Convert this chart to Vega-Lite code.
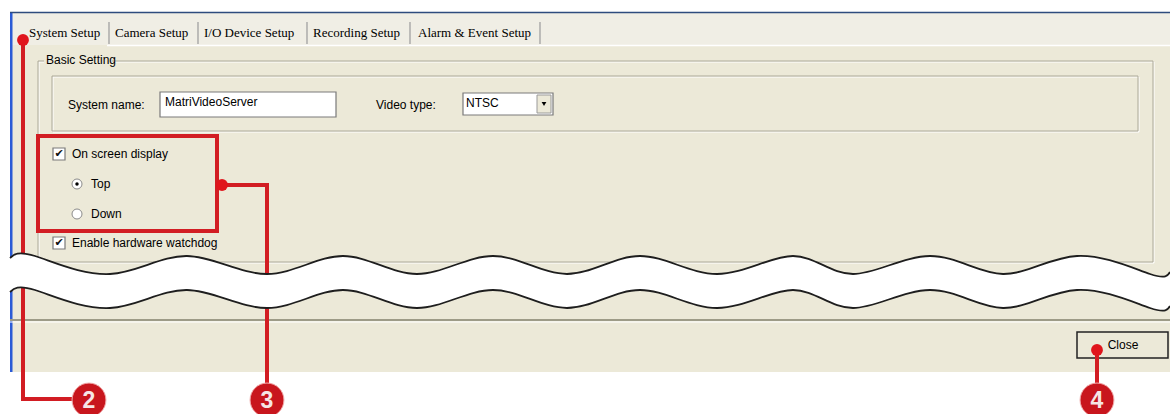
{
  "$schema": "https://vega.github.io/schema/vega-lite/v6.json",
  "width": 1170,
  "height": 414,
  "autosize": {"type": "none"},
  "padding": 0,
  "background": "#ffffff",
  "config": {"view": {"stroke": null}},
  "datasets": {
    "win": [{"x": 10, "x2": 1170, "y": 12, "y2": 372}],
    "tabstrip": [{"x": 12, "x2": 1170, "y": 13, "y2": 45}],
    "blueLeft": [{"x": 10, "x2": 12.5, "y": 12, "y2": 372}],
    "blueTop": [{"x": 10, "x2": 1170, "y": 12.5}],
    "tabLine": [{"x": 107, "x2": 1170, "y": 45.5}],
    "tabsep": [{"x": 109, "y": 22, "y2": 44}, {"x": 198, "y": 22, "y2": 44}, {"x": 307, "y": 22, "y2": 44}, {"x": 410, "y": 22, "y2": 44}, {"x": 540, "y": 22, "y2": 44}],
    "tabtext": [
      {"x": 29, "y": 33, "label": "System Setup"},
      {"x": 115, "y": 33, "label": "Camera Setup"},
      {"x": 204, "y": 33, "label": "I/O Device Setup"},
      {"x": 313, "y": 33, "label": "Recording Setup"},
      {"x": 418, "y": 33, "label": "Alarm & Event Setup"}
    ],
    "etch": [
      {"x": 38, "x2": 1153, "y": 61, "y2": 262},
      {"x": 52, "x2": 1138, "y": 76, "y2": 131}
    ],
    "etchW": [
      {"x": 39, "x2": 1154, "y": 62, "y2": 263},
      {"x": 53, "x2": 1139, "y": 77, "y2": 132}
    ],
    "labelbg": [{"x": 44, "x2": 112, "y": 54, "y2": 68}],
    "whiteboxes": [
      {"x": 160, "x2": 336, "y": 92, "y2": 117},
      {"x": 463, "x2": 553, "y": 93, "y2": 115},
      {"x": 53, "x2": 65, "y": 148, "y2": 160},
      {"x": 53, "x2": 65, "y": 237, "y2": 249}
    ],
    "combobtn": [{"x": 537, "x2": 551, "y": 95, "y2": 113}],
    "arrow": [{"x": 544, "y": 104}],
    "uitext": [
      {"x": 46, "y": 60, "label": "Basic Setting"},
      {"x": 68, "y": 105, "label": "System name:"},
      {"x": 165, "y": 102, "label": "MatriVideoServer"},
      {"x": 376, "y": 105, "label": "Video type:"},
      {"x": 466, "y": 103, "label": "NTSC"},
      {"x": 72, "y": 154, "label": "On screen display"},
      {"x": 91, "y": 184, "label": "Top"},
      {"x": 91, "y": 214, "label": "Down"},
      {"x": 72, "y": 243, "label": "Enable hardware watchdog"}
    ],
    "checks": [{"x": 59, "y": 154, "label": "✔"}, {"x": 59, "y": 243, "label": "✔"}],
    "radios": [{"x": 77, "y": 184}, {"x": 77, "y": 214}],
    "radiodot": [{"x": 77, "y": 184}],
    "sepDark": [{"x": 10, "x2": 1170, "y": 320}],
    "sepLight": [{"x": 10, "x2": 1170, "y": 322}],
    "closebtn": [{"x": 1077, "x2": 1168, "y": 332, "y2": 358}],
    "closetext": [{"x": 1123, "y": 345, "label": "Close"}],
    "redpath": [
      {"id": "a", "o": 1, "x": 23, "y": 40},
      {"id": "a", "o": 2, "x": 23, "y": 399},
      {"id": "a", "o": 3, "x": 90, "y": 399},
      {"id": "b", "o": 1, "x": 222, "y": 185},
      {"id": "b", "o": 2, "x": 267, "y": 185},
      {"id": "b", "o": 3, "x": 267, "y": 400},
      {"id": "c", "o": 1, "x": 1097, "y": 350},
      {"id": "c", "o": 2, "x": 1097, "y": 400}
    ],
    "redbox": [{"x": 38, "x2": 217, "y": 136, "y2": 231}],
    "reddots": [{"x": 23, "y": 40}, {"x": 222, "y": 185}, {"x": 1097, "y": 350}],
    "wave": [
      {"x": 10, "top": 258, "bot": 292},
      {"x": 35, "top": 256, "bot": 290},
      {"x": 110, "top": 274, "bot": 308},
      {"x": 187, "top": 256, "bot": 290},
      {"x": 267, "top": 274, "bot": 308},
      {"x": 343, "top": 256, "bot": 290},
      {"x": 417, "top": 274, "bot": 308},
      {"x": 493, "top": 256, "bot": 290},
      {"x": 567, "top": 274, "bot": 308},
      {"x": 640, "top": 256, "bot": 290},
      {"x": 717, "top": 274, "bot": 308},
      {"x": 793, "top": 256, "bot": 290},
      {"x": 853, "top": 274, "bot": 308},
      {"x": 930, "top": 256, "bot": 290},
      {"x": 1003, "top": 274, "bot": 308},
      {"x": 1077, "top": 256, "bot": 290},
      {"x": 1150, "top": 274, "bot": 308},
      {"x": 1170, "top": 272, "bot": 306}
    ],
    "badges": [{"x": 89, "y": 400, "label": "2"}, {"x": 267, "y": 400, "label": "3"}, {"x": 1097, "y": 400, "label": "4"}]
  },
  "layer": [
    {
      "data": {"name": "win"},
      "mark": {"type": "rect", "fill": "#ECE9D8"},
      "encoding": {
        "x": {"field": "x", "type": "quantitative", "scale": {"domain": [0, 1170], "nice": false, "zero": false}, "axis": null},
        "x2": {"field": "x2"},
        "y": {"field": "y", "type": "quantitative", "scale": {"domain": [0, 414], "nice": false, "zero": false, "reverse": true}, "axis": null},
        "y2": {"field": "y2"}
      }
    },
    {
      "data": {"name": "tabstrip"},
      "mark": {"type": "rect", "fill": "#F0EEE5"},
      "encoding": {
        "x": {"field": "x", "type": "quantitative", "axis": null}, "x2": {"field": "x2"},
        "y": {"field": "y", "type": "quantitative", "axis": null}, "y2": {"field": "y2"}
      }
    },
    {
      "data": {"name": "blueLeft"},
      "mark": {"type": "rect", "fill": "#2B5BD6"},
      "encoding": {
        "x": {"field": "x", "type": "quantitative", "axis": null}, "x2": {"field": "x2"},
        "y": {"field": "y", "type": "quantitative", "axis": null}, "y2": {"field": "y2"}
      }
    },
    {
      "data": {"name": "blueTop"},
      "mark": {"type": "rule", "stroke": "#2E4C7E", "strokeWidth": 1.5},
      "encoding": {
        "x": {"field": "x", "type": "quantitative", "axis": null}, "x2": {"field": "x2"},
        "y": {"field": "y", "type": "quantitative", "axis": null}
      }
    },
    {
      "data": {"name": "tabLine"},
      "mark": {"type": "rule", "stroke": "#FFFFFF", "strokeWidth": 1.5},
      "encoding": {
        "x": {"field": "x", "type": "quantitative", "axis": null}, "x2": {"field": "x2"},
        "y": {"field": "y", "type": "quantitative", "axis": null}
      }
    },
    {
      "data": {"name": "tabsep"},
      "mark": {"type": "rule", "stroke": "#9A9A9A", "strokeWidth": 1.2},
      "encoding": {
        "x": {"field": "x", "type": "quantitative", "axis": null},
        "y": {"field": "y", "type": "quantitative", "axis": null}, "y2": {"field": "y2"}
      }
    },
    {
      "data": {"name": "tabtext"},
      "mark": {"type": "text", "font": "Liberation Serif", "fontSize": 13, "align": "left", "baseline": "middle", "color": "#000000"},
      "encoding": {
        "x": {"field": "x", "type": "quantitative", "axis": null},
        "y": {"field": "y", "type": "quantitative", "axis": null},
        "text": {"field": "label"}
      }
    },
    {
      "data": {"name": "etchW"},
      "mark": {"type": "rect", "fill": null, "fillOpacity": 0, "stroke": "#FFFFFF", "strokeWidth": 1},
      "encoding": {
        "x": {"field": "x", "type": "quantitative", "axis": null}, "x2": {"field": "x2"},
        "y": {"field": "y", "type": "quantitative", "axis": null}, "y2": {"field": "y2"}
      }
    },
    {
      "data": {"name": "etch"},
      "mark": {"type": "rect", "fill": null, "fillOpacity": 0, "stroke": "#ACA899", "strokeWidth": 1},
      "encoding": {
        "x": {"field": "x", "type": "quantitative", "axis": null}, "x2": {"field": "x2"},
        "y": {"field": "y", "type": "quantitative", "axis": null}, "y2": {"field": "y2"}
      }
    },
    {
      "data": {"name": "labelbg"},
      "mark": {"type": "rect", "fill": "#ECE9D8"},
      "encoding": {
        "x": {"field": "x", "type": "quantitative", "axis": null}, "x2": {"field": "x2"},
        "y": {"field": "y", "type": "quantitative", "axis": null}, "y2": {"field": "y2"}
      }
    },
    {
      "data": {"name": "whiteboxes"},
      "mark": {"type": "rect", "fill": "#FFFFFF", "stroke": "#7A7A7A", "strokeWidth": 1.2},
      "encoding": {
        "x": {"field": "x", "type": "quantitative", "axis": null}, "x2": {"field": "x2"},
        "y": {"field": "y", "type": "quantitative", "axis": null}, "y2": {"field": "y2"}
      }
    },
    {
      "data": {"name": "combobtn"},
      "mark": {"type": "rect", "fill": "#ECE9D8", "stroke": "#9A9A9A", "strokeWidth": 1},
      "encoding": {
        "x": {"field": "x", "type": "quantitative", "axis": null}, "x2": {"field": "x2"},
        "y": {"field": "y", "type": "quantitative", "axis": null}, "y2": {"field": "y2"}
      }
    },
    {
      "data": {"name": "arrow"},
      "mark": {"type": "point", "shape": "triangle-down", "filled": true, "size": 22, "color": "#000000", "opacity": 1},
      "encoding": {
        "x": {"field": "x", "type": "quantitative", "axis": null},
        "y": {"field": "y", "type": "quantitative", "axis": null}
      }
    },
    {
      "data": {"name": "uitext"},
      "mark": {"type": "text", "font": "Liberation Sans", "fontSize": 12, "align": "left", "baseline": "middle", "color": "#000000"},
      "encoding": {
        "x": {"field": "x", "type": "quantitative", "axis": null},
        "y": {"field": "y", "type": "quantitative", "axis": null},
        "text": {"field": "label"}
      }
    },
    {
      "data": {"name": "checks"},
      "mark": {"type": "text", "font": "DejaVu Sans", "fontSize": 11, "fontWeight": "bold", "align": "center", "baseline": "middle", "color": "#111111"},
      "encoding": {
        "x": {"field": "x", "type": "quantitative", "axis": null},
        "y": {"field": "y", "type": "quantitative", "axis": null},
        "text": {"field": "label"}
      }
    },
    {
      "data": {"name": "radios"},
      "mark": {"type": "point", "shape": "circle", "filled": true, "size": 100, "fill": "#FFFFFF", "stroke": "#8A8A8A", "strokeWidth": 1, "opacity": 1},
      "encoding": {
        "x": {"field": "x", "type": "quantitative", "axis": null},
        "y": {"field": "y", "type": "quantitative", "axis": null}
      }
    },
    {
      "data": {"name": "radiodot"},
      "mark": {"type": "point", "shape": "circle", "filled": true, "size": 12, "color": "#000000", "opacity": 1},
      "encoding": {
        "x": {"field": "x", "type": "quantitative", "axis": null},
        "y": {"field": "y", "type": "quantitative", "axis": null}
      }
    },
    {
      "data": {"name": "sepDark"},
      "mark": {"type": "rule", "stroke": "#9D9B87", "strokeWidth": 2},
      "encoding": {
        "x": {"field": "x", "type": "quantitative", "axis": null}, "x2": {"field": "x2"},
        "y": {"field": "y", "type": "quantitative", "axis": null}
      }
    },
    {
      "data": {"name": "sepLight"},
      "mark": {"type": "rule", "stroke": "#FFFFFF", "strokeWidth": 1},
      "encoding": {
        "x": {"field": "x", "type": "quantitative", "axis": null}, "x2": {"field": "x2"},
        "y": {"field": "y", "type": "quantitative", "axis": null}
      }
    },
    {
      "data": {"name": "closebtn"},
      "mark": {"type": "rect", "fill": "#ECE9D8", "stroke": "#222222", "strokeWidth": 1.5},
      "encoding": {
        "x": {"field": "x", "type": "quantitative", "axis": null}, "x2": {"field": "x2"},
        "y": {"field": "y", "type": "quantitative", "axis": null}, "y2": {"field": "y2"}
      }
    },
    {
      "data": {"name": "closetext"},
      "mark": {"type": "text", "font": "Liberation Sans", "fontSize": 12, "align": "center", "baseline": "middle", "color": "#000000"},
      "encoding": {
        "x": {"field": "x", "type": "quantitative", "axis": null},
        "y": {"field": "y", "type": "quantitative", "axis": null},
        "text": {"field": "label"}
      }
    },
    {
      "data": {"name": "redpath"},
      "mark": {"type": "line", "stroke": "#D21D23", "strokeWidth": 4, "strokeJoin": "miter"},
      "encoding": {
        "x": {"field": "x", "type": "quantitative", "axis": null},
        "y": {"field": "y", "type": "quantitative", "axis": null},
        "detail": {"field": "id"},
        "order": {"field": "o", "type": "quantitative"}
      }
    },
    {
      "data": {"name": "redbox"},
      "mark": {"type": "rect", "fill": null, "fillOpacity": 0, "stroke": "#D21D23", "strokeWidth": 4},
      "encoding": {
        "x": {"field": "x", "type": "quantitative", "axis": null}, "x2": {"field": "x2"},
        "y": {"field": "y", "type": "quantitative", "axis": null}, "y2": {"field": "y2"}
      }
    },
    {
      "data": {"name": "reddots"},
      "mark": {"type": "point", "shape": "circle", "filled": true, "size": 140, "color": "#E0151C", "opacity": 1},
      "encoding": {
        "x": {"field": "x", "type": "quantitative", "axis": null},
        "y": {"field": "y", "type": "quantitative", "axis": null}
      }
    },
    {
      "data": {"name": "wave"},
      "mark": {"type": "area", "fill": "#FFFFFF", "opacity": 1, "interpolate": "natural"},
      "encoding": {
        "x": {"field": "x", "type": "quantitative", "axis": null},
        "y": {"field": "top", "type": "quantitative", "axis": null},
        "y2": {"field": "bot"}
      }
    },
    {
      "data": {"name": "wave"},
      "mark": {"type": "line", "stroke": "#1E1E1E", "strokeWidth": 1.8, "interpolate": "natural"},
      "encoding": {
        "x": {"field": "x", "type": "quantitative", "axis": null},
        "y": {"field": "top", "type": "quantitative", "axis": null}
      }
    },
    {
      "data": {"name": "wave"},
      "mark": {"type": "line", "stroke": "#1E1E1E", "strokeWidth": 1.8, "interpolate": "natural"},
      "encoding": {
        "x": {"field": "x", "type": "quantitative", "axis": null},
        "y": {"field": "bot", "type": "quantitative", "axis": null}
      }
    },
    {
      "data": {"name": "badges"},
      "mark": {"type": "point", "shape": "circle", "filled": true, "size": 1150, "fill": "#C8161D", "stroke": "#F2B0B0", "strokeWidth": 1, "opacity": 1},
      "encoding": {
        "x": {"field": "x", "type": "quantitative", "axis": null},
        "y": {"field": "y", "type": "quantitative", "axis": null}
      }
    },
    {
      "data": {"name": "badges"},
      "mark": {"type": "text", "font": "Liberation Sans", "fontSize": 23, "fontWeight": "bold", "align": "center", "baseline": "middle", "color": "#F6E6E6", "dy": 1},
      "encoding": {
        "x": {"field": "x", "type": "quantitative", "axis": null},
        "y": {"field": "y", "type": "quantitative", "axis": null},
        "text": {"field": "label"}
      }
    }
  ]
}
